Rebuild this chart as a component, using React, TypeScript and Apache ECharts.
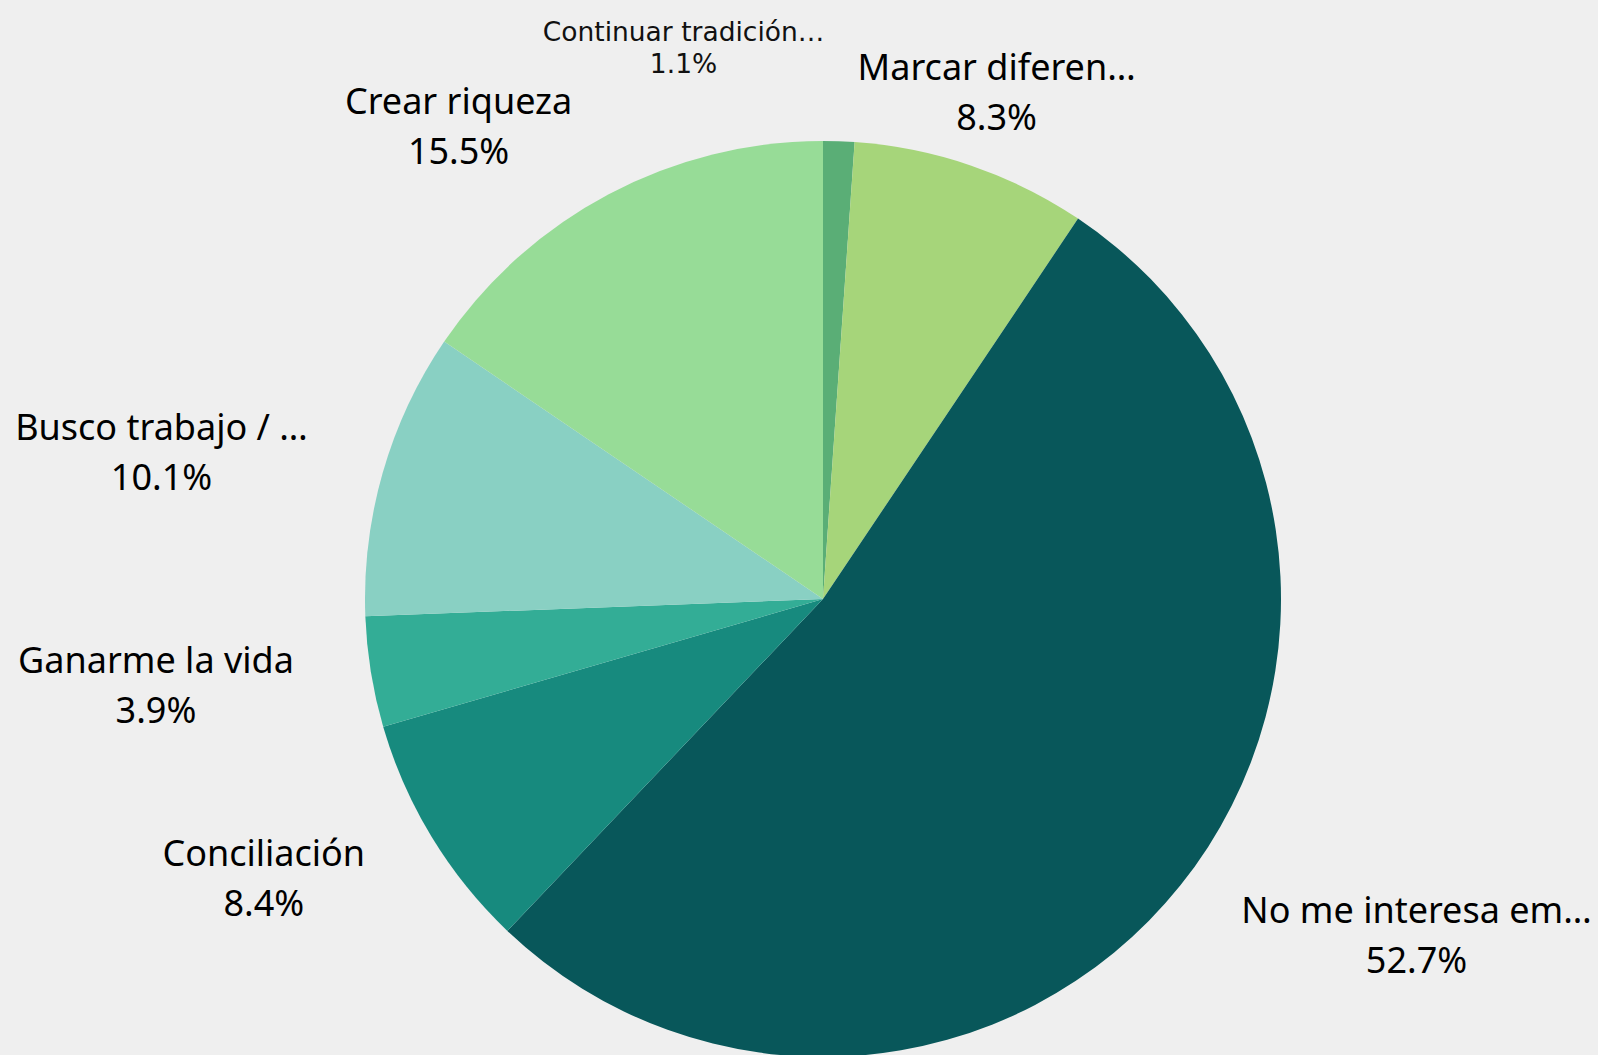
import React, { useEffect, useRef } from "react";
import * as echarts from "echarts";

const categories = [
  "Continuar tradición…",
  "Marcar diferen…",
  "No me interesa em…",
  "Conciliación",
  "Ganarme la vida",
  "Busco trabajo / …",
  "Crear riqueza",
];
const values = [1.1, 8.3, 52.7, 8.4, 3.9, 10.1, 15.5];
const colors = ["#5aae76", "#a6d57a", "#08575a", "#178a7e", "#33ad96", "#89d0c3", "#97dc97"];

export default function App() {
  const ref = useRef<HTMLDivElement>(null);
  useEffect(() => {
    if (!ref.current) return;
    const chart = echarts.init(ref.current, null, { renderer: "svg" });
    const data = categories.map((name, i) => ({ name, value: values[i], itemStyle: { color: colors[i] } }));
    chart.setOption({
      animation: false,
      backgroundColor: "#efefef",
      series: [
        {
          type: "pie",
          center: [823, 599],
          radius: 458,
          startAngle: 90,
          clockwise: true,
          avoidLabelOverlap: false,
          data,
          label: {
            show: true,
            position: "outside",
            formatter: (p: any) => {
              const t = p.dataIndex === 0 ? "s" : "n";
              return `{${t}|${p.name}}\n{${t}|${p.value.toFixed(1)}%}`;
            },
            fontFamily: "Noto Sans",
            fontSize: 36,
            lineHeight: 50,
            color: "#000",
            distanceToLabelLine: 0,
            rich: {
              n: { fontFamily: "Noto Sans", fontSize: 36, lineHeight: 50, color: "#000", align: "center" },
              s: { fontFamily: "DejaVu Sans", fontSize: 26.5, lineHeight: 32, color: "#111", align: "center" },
            },
          },
          labelLine: { show: false, length: 78, length2: 0 },
          emphasis: { disabled: true },
          labelLayout: (params: any) => {
            const r = params.labelRect;
            if (!r) return { hideOverlap: false };
            if (params.dataIndex === 1) {
              return { x: r.x, y: r.y + r.height / 2, align: "center", verticalAlign: "middle", hideOverlap: false };
            }
            if (params.dataIndex === 0) {
              return { x: r.x - 158, y: r.y + r.height / 2 - 16, align: "center", verticalAlign: "middle", hideOverlap: false };
            }
            return { hideOverlap: false };
          },
        },
      ],
    });
    return () => chart.dispose();
  }, []);
  return (
    <div
      ref={ref}
      style={{ position: "fixed", left: 0, top: 0, width: 1598, height: 1055 }}
    />
  );
}
